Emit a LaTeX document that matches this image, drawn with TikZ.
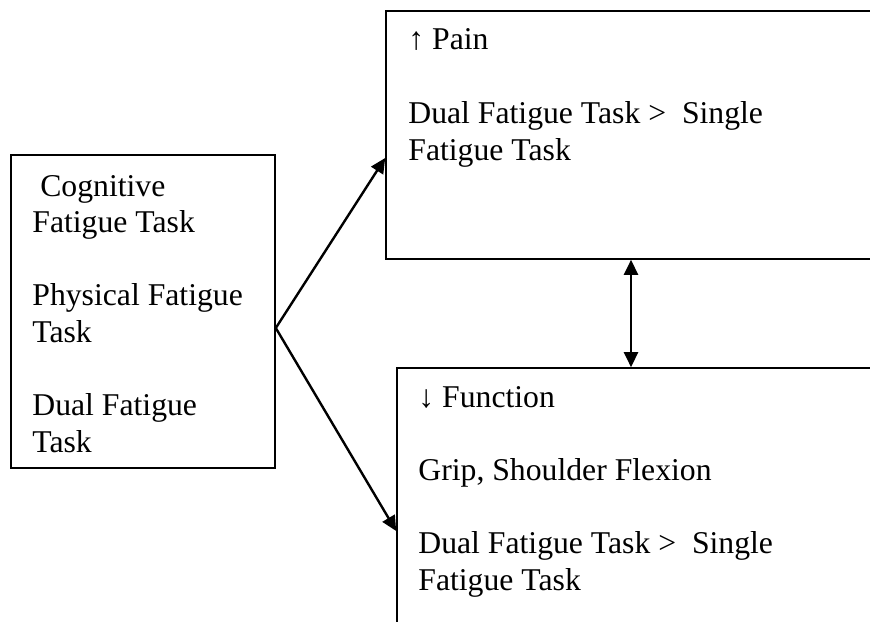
\documentclass[tikz,border=0pt]{standalone}
\usepackage{fontspec}
\setmainfont{Liberation Serif}
\usetikzlibrary{arrows.meta,fit}
\begin{document}
\begin{tikzpicture}[x=0.5pt,y=-0.5pt,
  box/.style={draw, line width=0.8pt, inner sep=0pt},
  txt/.style={anchor=base west, inner sep=0pt, font=\fontsize{15.85}{18.3}\selectfont},
  link/.style={line width=1.2pt, -{Triangle[length=7.5pt,width=7pt]}},
  bilink/.style={line width=1.2pt, {Triangle[length=7.5pt,width=7pt]}-{Triangle[length=7.5pt,width=7pt]}}]
\useasboundingbox (0,0) rectangle (870,621);
\clip (0,0) rectangle (870,621);

% boxes (the two outcome boxes run past the right and bottom edges)
\node[box, fit={(11,155) (275,468)}] (tasks) {};
\node[box, fit={(386,11) (1000,259)}] (pain) {};
\node[box, fit={(397,368) (1000,700)}] (func) {};

% task list
\node[txt] (t1) at (32,196) {\ Cognitive};
\node[txt] (t2) at (32,232.6) {Fatigue Task};
\node[txt] (t3) at (32,305.8) {Physical Fatigue};
\node[txt] (t4) at (32,342.4) {Task};
\node[txt] (t5) at (32,415.6) {Dual Fatigue};
\node[txt] (t6) at (32,452.2) {Task};

% pain outcome
\node[txt] (p1) at (408,49) {↑ Pain};
\node[txt] (p2) at (408,123) {Dual Fatigue Task > \ Single};
\node[txt] (p3) at (408,160) {Fatigue Task};

% function outcome
\node[txt] (f1) at (418,407) {↓ Function};
\node[txt] (f2) at (418,480) {Grip, Shoulder Flexion};
\node[txt] (f3) at (418,553) {Dual Fatigue Task > \ Single};
\node[txt] (f4) at (418,590) {Fatigue Task};

% connectors
\coordinate (fork) at (tasks.east |- 0,328);
\draw[link] (fork) -- (pain.west |- 0,158);
\draw[link] (fork) -- (func.west |- 0,531);
\draw[bilink] (pain.south -| 631,0) -- (func.north -| 631,0);
\end{tikzpicture}
\end{document}
